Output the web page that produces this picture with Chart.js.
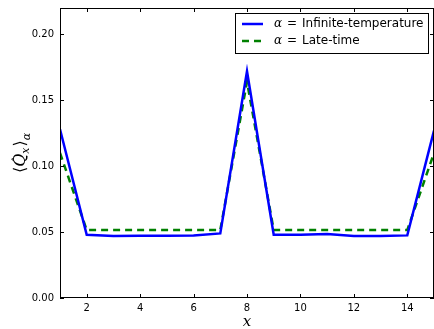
<!DOCTYPE html>
<html>
<head>
<meta charset="utf-8">
<script src="https://cdn.jsdelivr.net/npm/chart.js@4"></script>
<style>
  html, body { margin: 0; padding: 0; background: #fff; }
  #wrap { width: 434px; height: 329px; }
</style>
</head>
<body>
<div id="wrap"><canvas id="c" width="434" height="329"></canvas></div>
<script>
/* ── data ── */
const sites = [1, 2, 3, 4, 5, 6, 7, 8, 9, 10, 11, 12, 13, 14, 15];
const infiniteTemp = [0.128, 0.048, 0.047, 0.0472, 0.0472, 0.0475, 0.049, 0.172, 0.048, 0.048, 0.0485, 0.047, 0.047, 0.0475, 0.127];
const lateTime = [0.110, 0.0515, 0.0515, 0.0515, 0.0515, 0.0515, 0.0515, 0.164, 0.0515, 0.0515, 0.0515, 0.0515, 0.0515, 0.0515, 0.110];
const xTicks = [2, 4, 6, 8, 10, 12, 14];
const yTicks = [0, 0.05, 0.10, 0.15, 0.20];
const seriesNames = ['Infinite-temperature', 'Late-time'];

const BLUE = '#0000ff';
const GREEN = '#008000';
const FONT = '"DejaVu Sans", sans-serif';
const SERIF = '"DejaVu Serif", serif';

const toPoints = vals => sites.map((x, i) => ({ x, y: vals[i] }));

/* frame, inward ticks, legend, axis titles */
const decor = {
    id: 'decor',
    afterDatasetsDraw(chart) {
        const { ctx, chartArea: a, scales } = chart;
        const xs = scales.x, ys = scales.y;
        ctx.save();
        ctx.strokeStyle = '#000';
        ctx.lineWidth = 1;
        // ticks
        ctx.beginPath();
        xTicks.forEach(v => {
            const px = Math.round(xs.getPixelForValue(v)) + 0.5;
            ctx.moveTo(px, a.bottom); ctx.lineTo(px, a.bottom - 4);
            ctx.moveTo(px, a.top); ctx.lineTo(px, a.top + 4);
        });
        yTicks.forEach(v => {
            const py = Math.round(ys.getPixelForValue(v)) + 0.5;
            ctx.moveTo(a.left, py); ctx.lineTo(a.left + 4, py);
            ctx.moveTo(a.right, py); ctx.lineTo(a.right - 4, py);
        });
        ctx.stroke();
        // frame
        ctx.strokeRect(a.left + 0.5, a.top + 0.5, a.right - a.left - 1, a.bottom - a.top - 1);

        // legend
        const lx = 235, ly = 13, lw = 193, lh = 40;
        ctx.fillStyle = '#fff';
        ctx.fillRect(lx, ly, lw, lh);
        ctx.strokeRect(lx + 0.5, ly + 0.5, lw, lh);
        chart.data.datasets.forEach((ds, i) => {
            const ry = ly + 11 + i * 17;
            ctx.beginPath();
            ctx.strokeStyle = ds.borderColor;
            ctx.lineWidth = 2.5;
            ctx.setLineDash(ds.borderDash || []);
            ctx.moveTo(lx + 7, ry); ctx.lineTo(lx + 28, ry);
            ctx.stroke();
            ctx.setLineDash([]);
            ctx.fillStyle = '#000';
            ctx.textBaseline = 'middle';
            ctx.textAlign = 'left';
            ctx.font = 'italic 12px ' + SERIF;
            ctx.fillText('α', lx + 39, ry);
            ctx.font = '12px ' + SERIF;
            ctx.fillText('=', lx + 52, ry);
            ctx.font = '12px ' + FONT;
            ctx.fillText(ds.label, lx + 67, ry);
        });

        // x title
        ctx.fillStyle = '#000';
        ctx.textAlign = 'center';
        ctx.textBaseline = 'alphabetic';
        ctx.font = 'italic 15px ' + SERIF;
        ctx.fillText('x', (a.left + a.right) / 2, 326);

        // y title  ⟨Q̂x⟩α
        const parts = [
            { t: '⟨', f: '16px ' + SERIF, dy: 0, gap: 0 },
            { t: 'Q', f: 'italic 16px ' + SERIF, dy: 0, gap: 0, hat: true },
            { t: 'x', f: 'italic 11px ' + SERIF, dy: 4, gap: 1 },
            { t: '⟩', f: '16px ' + SERIF, dy: 0, gap: 0 },
            { t: 'α', f: 'italic 11px ' + SERIF, dy: 5, gap: 0 },
        ];
        let total = 0;
        parts.forEach(p => { ctx.font = p.f; p.w = ctx.measureText(p.t).width; total += p.w + p.gap; });
        ctx.translate(25, (a.top + a.bottom) / 2);
        ctx.rotate(-Math.PI / 2);
        ctx.textAlign = 'left';
        let cx = -total / 2;
        parts.forEach(p => {
            ctx.font = p.f;
            ctx.fillText(p.t, cx, p.dy);
            if (p.hat) {
                ctx.font = '12px ' + SERIF;
                ctx.fillText('ˆ', cx + p.w / 2 - 2, -3);
            }
            cx += p.w + p.gap;
        });
        ctx.restore();
    }
};

new Chart(document.getElementById('c').getContext('2d'), {
    type: 'line',
    data: {
        datasets: [
            {
                label: seriesNames[0],
                data: toPoints(infiniteTemp),
                borderColor: BLUE,
                borderWidth: 2.5,
                pointRadius: 0,
                tension: 0,
            },
            {
                label: seriesNames[1],
                data: toPoints(lateTime),
                borderColor: GREEN,
                borderWidth: 2.5,
                borderDash: [7, 5],
                pointRadius: 0,
                tension: 0,
            },
        ],
    },
    options: {
        responsive: false,
        animation: false,
        layout: { padding: { top: 8, right: 0, left: 0, bottom: 0 } },
        plugins: { legend: { display: false }, tooltip: { enabled: false } },
        scales: {
            x: {
                type: 'linear',
                min: 1, max: 15,
                grid: { display: false, drawTicks: false },
                border: { display: false },
                afterBuildTicks: s => { s.ticks = xTicks.map(v => ({ value: v })); },
                afterFit: s => { s.height = 31; s.paddingLeft = 0; s.paddingRight = 0; },
                ticks: { color: '#000', font: { family: FONT, size: 10 }, padding: 4, maxRotation: 0 },
            },
            y: {
                min: 0, max: 0.22,
                grid: { display: false, drawTicks: false },
                border: { display: false },
                afterBuildTicks: s => { s.ticks = yTicks.map(v => ({ value: v })); },
                afterFit: s => { s.width = 60; s.paddingTop = 0; s.paddingBottom = 0; },
                ticks: {
                    color: '#000', font: { family: FONT, size: 10 }, padding: 6,
                    callback: v => v.toFixed(2),
                },
            },
        },
    },
    plugins: [decor],
});
</script>
</body>
</html>
